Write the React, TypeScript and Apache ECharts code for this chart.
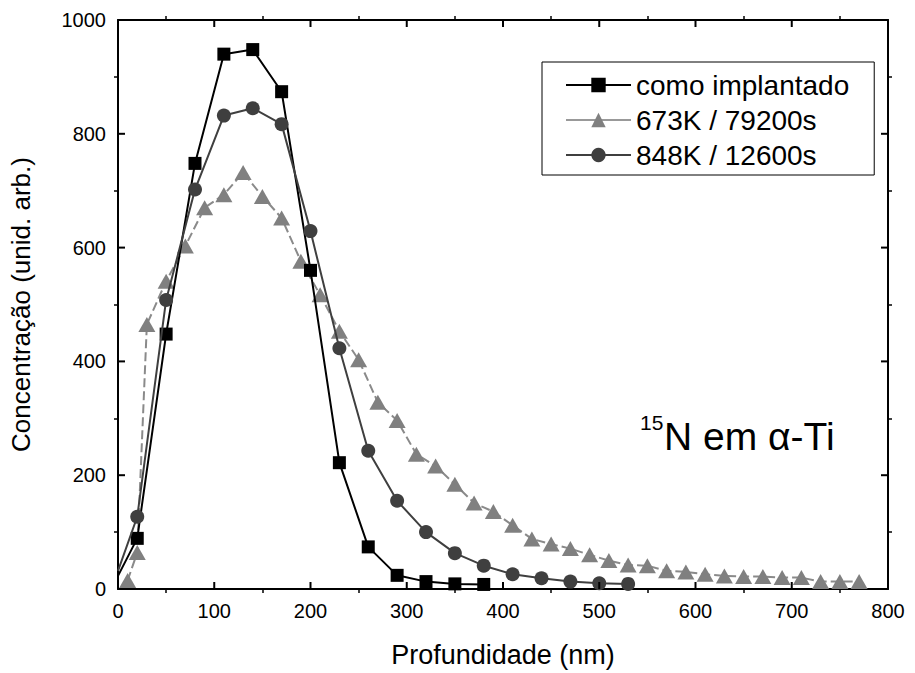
import React, { useEffect, useRef } from "react";
import * as echarts from "echarts";

const squaresX = [0, 20, 50, 80, 110, 140, 170, 200, 230, 260, 290, 320, 350, 380];
const squaresY = [23, 89, 448, 748, 940, 948, 874, 560, 222, 74, 24, 13, 9, 8];

const trianglesX = [10, 20, 30, 50, 70, 90, 110, 130, 150, 170, 190, 210, 230, 250, 270, 290, 310, 330, 350, 370, 390, 410, 430, 450, 470, 490, 510, 530, 550, 570, 590, 610, 630, 650, 670, 690, 710, 730, 750, 770];
const trianglesY = [15, 64, 465, 541, 603, 670, 693, 732, 690, 652, 576, 517, 453, 403, 328, 296, 237, 216, 184, 151, 136, 112, 88, 79, 71, 60, 50, 42, 41, 32, 30, 26, 23, 22, 22, 20, 20, 13, 13, 13];

const circlesX = [0, 20, 50, 80, 110, 140, 170, 200, 230, 260, 290, 320, 350, 380, 410, 440, 470, 500, 530];
const circlesY = [32, 127, 508, 702, 832, 845, 817, 629, 423, 243, 155, 100, 63, 41, 26, 19, 13, 10, 9];

const seriesNames = ["como implantado", "673K / 79200s", "848K / 12600s"];
const xMajorTicks = [0, 100, 200, 300, 400, 500, 600, 700, 800];
const yMajorTicks = [0, 200, 400, 600, 800, 1000];
const X_MIN = 0;
const X_MAX = 800;
const X_STEP = 100;
const Y_MIN = 0;
const Y_MAX = 1000;
const Y_STEP = 200;

const FONT = "Arial";
const TICK_LEN = 7;

function pts(xs: number[], ys: number[]) {
  return xs.map((x, i) =>
    x === 0 ? { value: [x, ys[i]], symbol: "none" } : { value: [x, ys[i]] }
  );
}

const axisLine = { show: true, onZero: false, lineStyle: { color: "#000", width: 2 } };

function minorAxis() {
  return {
    axisLine,
    axisTick: { show: false },
    minorTick: { show: true, splitNumber: 2, length: 4, lineStyle: { color: "#000", width: 1.5 } },
    splitLine: { show: false },
  };
}

export default function App() {
  const ref = useRef<HTMLDivElement>(null);
  useEffect(() => {
    if (!ref.current) return;
    const chart = echarts.init(ref.current, undefined, { renderer: "svg" });
    chart.setOption({
      animation: false,
      backgroundColor: "#fff",
      grid: { left: 115, right: 27, top: 20, bottom: 83 },
      legend: {
        data: seriesNames.map((n, i) =>
          i === 1 ? { name: n, lineStyle: { type: "solid", color: "#999" } } : { name: n }
        ),
        orient: "vertical",
        left: 542,
        top: 62,
        padding: [9, 25, 6, 23],
        itemGap: 7,
        itemWidth: 65,
        itemHeight: 18,
        borderColor: "#000",
        borderWidth: 1,
        textStyle: { fontFamily: FONT, fontSize: 28, color: "#000" },
      },
      xAxis: [
        {
          type: "value",
          min: X_MIN,
          max: X_MAX,
          interval: X_STEP,
          position: "bottom",
          name: "Profundidade (nm)",
          nameLocation: "middle",
          nameGap: 52,
          nameTextStyle: { fontFamily: FONT, fontSize: 27, color: "#000" },
          axisLabel: { fontFamily: FONT, fontSize: 20, color: "#000", margin: 12 },
          ...minorAxis(),
        },
        {
          type: "value",
          min: X_MIN,
          max: X_MAX,
          interval: X_STEP,
          position: "top",
          axisLabel: { show: false },
          ...minorAxis(),
        },
      ],
      yAxis: [
        {
          type: "value",
          min: Y_MIN,
          max: Y_MAX,
          interval: Y_STEP,
          position: "left",
          name: "Concentração (unid. arb.)",
          nameLocation: "middle",
          nameGap: 84,
          nameTextStyle: { fontFamily: FONT, fontSize: 26, color: "#000" },
          axisLabel: {
            fontFamily: FONT,
            fontSize: 20,
            color: "#000",
            margin: 12,
            formatter: (v: number) => String(v),
          },
          ...minorAxis(),
        },
        {
          type: "value",
          min: Y_MIN,
          max: Y_MAX,
          interval: Y_STEP,
          position: "right",
          axisLabel: { show: false },
          ...minorAxis(),
        },
      ],
      series: [
        {
          name: seriesNames[0],
          type: "line",
          data: pts(squaresX, squaresY),
          symbol: "rect",
          symbolSize: 13,
          color: "#000",
          itemStyle: { color: "#000" },
          lineStyle: { color: "#000", width: 2 },
          z: 3,
        },
        {
          name: seriesNames[1],
          type: "line",
          data: pts(trianglesX, trianglesY),
          symbol: "triangle",
          symbolSize: [17, 15],
          color: "#808080",
          itemStyle: { color: "#808080" },
          lineStyle: { color: "#8a8a8a", width: 2, type: [9, 4] },
          z: 2,
        },
        {
          name: seriesNames[2],
          type: "line",
          data: pts(circlesX, circlesY),
          symbol: "circle",
          symbolSize: 14,
          color: "#3f3f3f",
          itemStyle: { color: "#3f3f3f" },
          lineStyle: { color: "#3f3f3f", width: 2 },
          z: 4,
        },
      ],
    });

    // major ticks, placed through the axes' own scales
    const px = (v: number) => chart.convertToPixel({ xAxisIndex: 0 }, v) as number;
    const py = (v: number) => chart.convertToPixel({ yAxisIndex: 0 }, v) as number;
    const left = px(X_MIN);
    const right = px(X_MAX);
    const bottom = py(Y_MIN);
    const top = py(Y_MAX);
    const tickStyle = { stroke: "#000", lineWidth: 2 };
    const ticks: any[] = [];
    xMajorTicks
      .filter((v) => v > X_MIN && v < X_MAX)
      .forEach((v) => {
        const x = px(v);
        ticks.push({ type: "line", z: 50, shape: { x1: x, y1: bottom, x2: x, y2: bottom - TICK_LEN }, style: tickStyle });
        ticks.push({ type: "line", z: 50, shape: { x1: x, y1: top, x2: x, y2: top + TICK_LEN }, style: tickStyle });
      });
    yMajorTicks
      .filter((v) => v > Y_MIN && v < Y_MAX)
      .forEach((v) => {
        const y = py(v);
        ticks.push({ type: "line", z: 50, shape: { x1: left, y1: y, x2: left + TICK_LEN, y2: y }, style: tickStyle });
        ticks.push({ type: "line", z: 50, shape: { x1: right, y1: y, x2: right - TICK_LEN, y2: y }, style: tickStyle });
      });

    chart.setOption({
      graphic: [
        {
          type: "text",
          left: 640,
          top: 412,
          style: { text: "15", fontFamily: FONT, fontSize: 21, fill: "#000" },
        },
        {
          type: "text",
          left: 664,
          top: 417,
          style: { text: "N em α-Ti", fontFamily: FONT, fontSize: 39, fill: "#000" },
        },
        ...ticks,
      ],
    });
    return () => chart.dispose();
  }, []);
  return (
    <div
      ref={ref}
      style={{ position: "absolute", left: 0, top: 0, width: 915, height: 673 }}
    />
  );
}
